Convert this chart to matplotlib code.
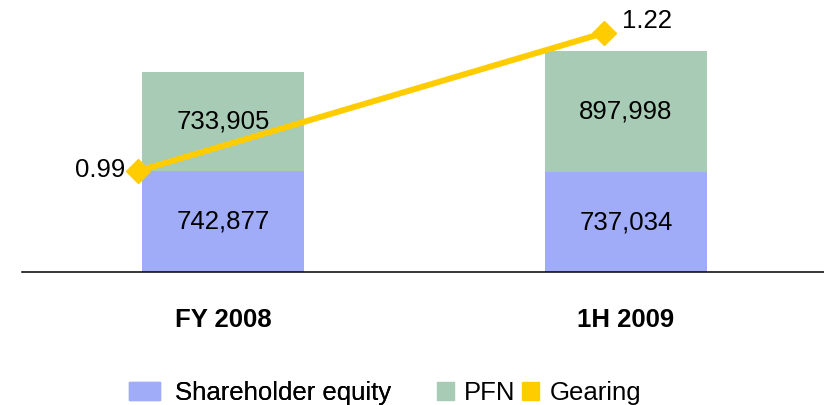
import matplotlib
matplotlib.use("Agg")
import matplotlib.pyplot as plt
from matplotlib.patches import Patch

plt.rcParams['font.family'] = ['Liberation Sans', 'DejaVu Sans']

# data
categories = ["FY 2008", "1H 2009"]
equity = [742877, 737034]
pfn = [733905, 897998]
gearing = [0.99, 1.22]

blue = "#A0ACF8"
green = "#A7CBB4"
yellow = "#FFCC00"
fs = 18.5

fig = plt.figure(figsize=(8.24, 4.05), dpi=100, facecolor="white")
ax = fig.add_axes([22 / 824, 133 / 405, 802 / 824, 272 / 405])

x = list(range(len(categories)))
width = 0.4025
ax.bar(x, equity, width, color=blue)
ax.bar(x, pfn, width, bottom=equity, color=green)

ax.set_xlim(-0.5006, 1.492)
ax.set_ylim(0, 2.01e6)

# value labels in the middle of each segment
for i in x:
    ax.text(i, equity[i] / 2, f"{equity[i]:,}", ha="center", va="center", fontsize=fs)
    ax.text(i, equity[i] + pfn[i] / 2, f"{pfn[i]:,}", ha="center", va="center", fontsize=fs)

ax.set_xticks(x)
ax.set_xticklabels(categories, fontsize=fs, fontweight="bold")
ax.tick_params(axis="x", length=0, pad=26)
ax.set_yticks([])
for s in ["top", "left", "right"]:
    ax.spines[s].set_visible(False)
ax.spines["bottom"].set_linewidth(1.1)

# gearing on a second axis, points shifted left of bar centres
ax2 = ax.twinx()
ax2.set_ylim(0.8217, 1.275)
ax2.set_yticks([])
for s in ax2.spines.values():
    s.set_visible(False)
shift = [-0.2124, -0.055]
gx = [x[i] + shift[i] for i in x]
ax2.plot(gx, gearing, color=yellow, lw=4.3, marker="D", markersize=12,
         solid_capstyle="butt", clip_on=False)
ax2.annotate(f"{gearing[0]:.2f}", (gx[0], gearing[0]), xytext=(-9, 1),
             textcoords="offset points", ha="right", va="center", fontsize=fs)
ax2.annotate(f"{gearing[1]:.2f}", (gx[1], gearing[1]), xytext=(13, 8.5),
             textcoords="offset points", ha="left", va="center", fontsize=fs)

# legend in two pieces to match the uneven spacing
leg1 = fig.legend(handles=[Patch(color=blue, label="Shareholder equity")],
                  loc="center left", bbox_to_anchor=(129 / 824, 1 - 393 / 405),
                  frameon=False, fontsize=fs, borderpad=0, borderaxespad=0,
                  handlelength=1.2, handleheight=0.74, handletextpad=0.58)
fig.legend(handles=[Patch(color=green, label="PFN"), Patch(color=yellow, label="Gearing")],
           loc="center left", bbox_to_anchor=(437 / 824, 1 - 393 / 405), ncol=2,
           frameon=False, fontsize=fs, borderpad=0, borderaxespad=0,
           handlelength=0.66, handleheight=0.7, handletextpad=0.39, columnspacing=0.27)
fig.add_artist(leg1)

fig.savefig("out.png", dpi=100, facecolor="white")
